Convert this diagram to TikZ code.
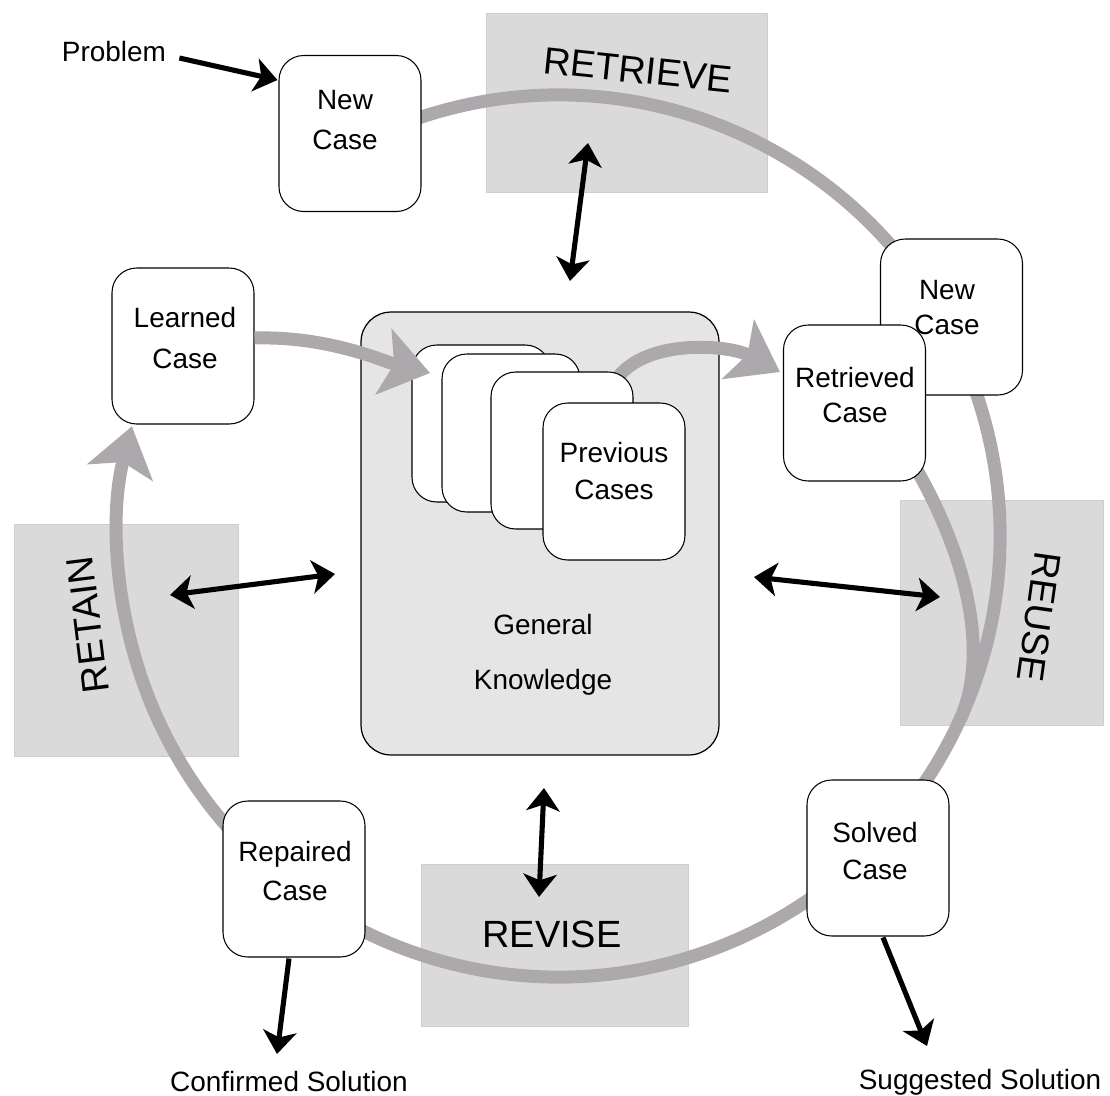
\documentclass[tikz,border=0pt]{standalone}
\usepackage{fontspec}
\setmainfont{Liberation Sans}
\usetikzlibrary{arrows.meta}
\definecolor{ringgray}{RGB}{172,168,172}
\definecolor{phasegray}{RGB}{218,218,218}
\definecolor{phaseedge}{RGB}{206,206,206}
\definecolor{kgray}{RGB}{229,229,229}
\pgfdeclarelayer{bottom}
\pgfdeclarelayer{ringl}
\pgfsetlayers{bottom,ringl,main}
\begin{document}
\begin{tikzpicture}[x=0.02cm,y=-0.02cm,
  phasebox/.style={fill=phasegray, draw=phaseedge, line width=0.5pt, inner sep=0pt},
  kbox/.style={fill=kgray, draw=black, line width=0.7pt, rounded corners=17pt, inner sep=0pt, minimum width=7.16cm, minimum height=8.86cm},
  casebox/.style={draw=black, line width=0.6pt, fill=white, rounded corners=14pt, inner sep=0pt, minimum width=2.84cm, minimum height=3.12cm},
  cardbox/.style={draw=black, line width=0.6pt, fill=white, rounded corners=14pt, inner sep=0pt, minimum height=3.14cm},
  casetxt/.style={align=center, inner sep=0pt, font=\fontsize{15.9}{#1}\selectfont},
  plaintxt/.style={inner sep=0pt, font=\fontsize{15.9}{19}\selectfont},
  phaselbl/.style={inner sep=0pt, font=\fontsize{21.6}{26}\selectfont},
  ring/.style={draw=ringgray, line width=7.4pt},
  bigtip/.style={-{Stealth[length=27pt, width=38pt, inset=6pt]}},
  blk/.style={draw=black, line width=2.9pt},
  >={Stealth[length=13pt, width=19pt, inset=3.5pt]}
]
\useasboundingbox (0,0) rectangle (1110,1096);

% phase boxes and knowledge box
\begin{pgfonlayer}{bottom}
\node[phasebox, minimum width=5.62cm, minimum height=3.58cm] (retrievebox) at (626.5,102.5) {};
\node[phasebox, minimum width=4.06cm, minimum height=4.50cm] (reusebox) at (1001.5,612.5) {};
\node[phasebox, minimum width=5.34cm, minimum height=3.24cm] (revisebox) at (554.5,945) {};
\node[phasebox, minimum width=4.48cm, minimum height=4.64cm] (retainbox) at (126,640) {};
\node[kbox] (know) at (540,533.5) {};
\end{pgfonlayer}

% ring
\coordinate (ringc) at (559,536);
\coordinate (innerS) at (905,450);
\coordinate (innerE) at (960,720);
\begin{pgfonlayer}{ringl}
\draw[ring, bigtip] (ringc) ++(250:441) arc[start angle=250, end angle=554.4, radius=441];
\draw[ring] (innerS) .. controls (955,530) and (995,640) .. (innerE);
\end{pgfonlayer}

% previous cases cards
\node[cardbox, minimum width=2.76cm] (card1) at (481,423.5) {};
\node[cardbox, minimum width=2.76cm, minimum height=3.16cm] (card2) at (511,433) {};
\node[cardbox, minimum width=2.84cm] (card3) at (562,450.5) {};
\node[cardbox, minimum width=2.84cm] (card4) at (614,481.5) {};
\node[casetxt=21.6pt] (card4t) at (614,471) {Previous\\Cases};
\node[casetxt=31.3pt] (knowt) at (543,655) {General\\Knowledge};

% case boxes
\node[casebox] (newcase) at (350,133.5) {};
\node[casetxt=22.8pt] (newcaset) at (345,120) {New\\Case};
\node[casebox] (learned) at (183,346) {};
\node[casetxt=22.8pt] (learnedt) at (185,338) {Learned\\Case};
\node[casebox] (newcase2) at (951.5,317) {};
\node[casetxt=19.9pt] (newcase2t) at (947,307.5) {New\\Case};
\node[casebox] (retrieved) at (854.5,403) {};
\node[casetxt=19.4pt] (retrievedt) at (855,395) {Retrieved\\Case};
\node[casebox] (solved) at (878,858) {};
\node[casetxt=21.6pt] (solvedt) at (875,851) {Solved\\Case};
\node[casebox] (repaired) at (294,879) {};
\node[casetxt=22.2pt] (repairedt) at (295,871.5) {Repaired\\Case};

% grey flow arrows
\begin{pgfonlayer}{ringl}
\draw[ring, bigtip] ([shift={(-15,5)}]card3.north east) .. controls (650,338) and (730,345) .. ([shift={(-3,-31)}]retrieved.west);
\end{pgfonlayer}
\coordinate (card1in) at (430,373);
\draw[ring, bigtip] ([shift={(0,-8)}]learned.east) .. controls (330,336) and (385,362) .. (card1in);

% labels
\node[phaselbl, rotate=-6] (retrievelbl) at (638,70) {RETRIEVE};
\node[phaselbl, rotate=-98] (reuselbl) at (1039,617) {REUSE};
\node[phaselbl] (reviselbl) at (552,934) {REVISE};
\node[phaselbl, rotate=97] (retainlbl) at (88,625) {RETAIN};
\node[plaintxt] (problem) at (114,52) {Problem};
\node[plaintxt, anchor=base] (confirmed) at (289,1091) {Confirmed Solution};
\node[plaintxt, anchor=base] (suggested) at (980,1089) {Suggested Solution};

% black arrows
\coordinate (retrA) at (588,143);
\coordinate (retrB) at (570,281);
\coordinate (reuseA) at (754,577);
\coordinate (reuseB) at (940,597);
\coordinate (retainA) at (170,595);
\coordinate (retainB) at (335,574);
\coordinate (reviseA) at (544,788);
\coordinate (reviseB) at (539,897);
\coordinate (confTip) at (277,1054);
\coordinate (suggTip) at (927,1046);
\draw[blk, ->] ([shift={(13,6)}]problem.east) -- ([shift={(-1,-53.5)}]newcase.west);
\draw[blk, <->] (retrA) -- (retrB);
\draw[blk, <->] (reuseA) -- (reuseB);
\draw[blk, <->] (retainA) -- (retainB);
\draw[blk, <->] (reviseA) -- (reviseB);
\draw[blk, ->] ([shift={(-5,1)}]repaired.south) -- (confTip);
\draw[blk, ->] ([shift={(5,1)}]solved.south) -- (suggTip);
\end{tikzpicture}
\end{document}
